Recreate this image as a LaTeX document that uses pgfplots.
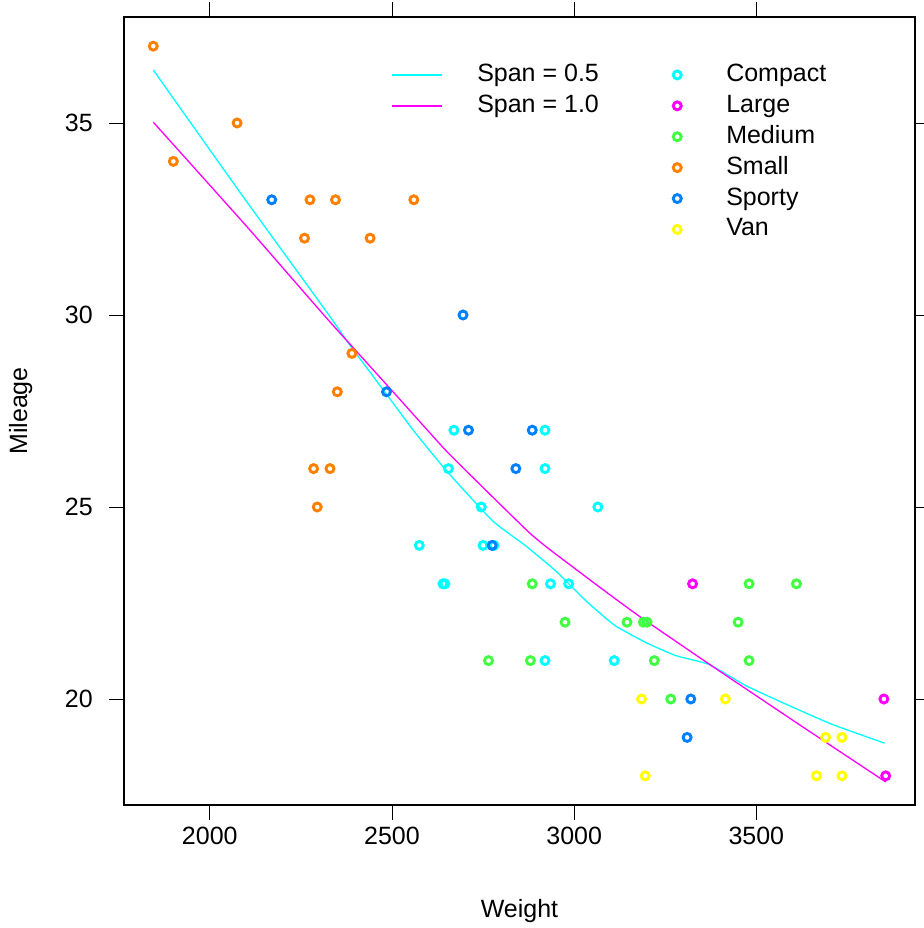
\documentclass[border=0pt]{standalone}
\usepackage{pgfplots}
\pgfplotsset{compat=1.18}
\usepackage{fontspec}
\setmainfont{Liberation Sans}
\definecolor{cCompact}{HTML}{00FFFF}
\definecolor{cLarge}{HTML}{FF00FF}
\definecolor{cMedium}{HTML}{40FF40}
\definecolor{cSmall}{HTML}{FF8000}
\definecolor{cSporty}{HTML}{0080FF}
\definecolor{cVan}{HTML}{FFFF00}
\begin{document}
\begin{tikzpicture}
\path[use as bounding box] (0,0) rectangle (924bp,928bp);
\begin{axis}[
  at={(124bp,123bp)}, anchor=south west,
  scale only axis, width=791bp, height=788bp,
  xmin=1764.6, xmax=3935.4, ymin=17.24, ymax=37.76,
  xtick={2000,2500,3000,3500}, ytick={20,25,30,35},
  tick align=outside, major tick length=15bp,
  tick style={black, line width=0.9bp},
  axis line style={black, line width=1.1bp},
  /pgf/number format/assume math mode=true,
  /pgf/number format/set thousands separator={},
  tick label style={font=\fontsize{25bp}{30bp}\selectfont},
  yticklabel style={inner sep=0pt, xshift=-16bp},
  xticklabel style={inner sep=0pt, yshift=-7bp},
  label style={font=\fontsize{25bp}{30bp}\selectfont},
  xlabel={Weight}, ylabel={Mileage},
  xlabel style={at={(axis description cs:0.5,-0.135)}, anchor=center, inner sep=0pt},
  ylabel style={at={(axis description cs:-0.1305,0.5)}, anchor=center, rotate=0, inner sep=0pt},
  legend columns=2,
  legend style={at={(axis description cs:0.3384,0.9423)}, anchor=north west,
    draw=none, fill=none, inner sep=0pt, outer sep=0pt,
    column sep=0pt, row sep=5.9bp,
    font=\fontsize{25bp}{30bp}\selectfont,
    nodes={inner sep=0pt, text height=19bp, text depth=6bp}},
  legend cell align=left,
  mk/.style={only marks, mark=o, mark size=4.0bp, mark options={line width=2.9bp, draw=#1}, draw=#1},
  mkimg/.style={legend image code/.code={\path[draw=none] (0bp,0bp) -- (26bp,0bp); \draw[#1, line width=2.9bp] (10bp,0bp) circle[radius=4.0bp];}},
]
\addplot[forget plot, mk=cCompact] coordinates {(2670,27)(2640,23)(2655,26)(3065,25)(2750,24)(2920,26)(2780,24)(2745,25)(3110,21)(2920,21)(2645,23)(2575,24)(2935,23)(2920,27)(2985,23)};
\addplot[forget plot, mk=cLarge] coordinates {(3325,23)(3855,18)(3850,20)};
\addplot[forget plot, mk=cMedium] coordinates {(3265,20)(2880,21)(2975,22)(3450,22)(3145,22)(3190,22)(3610,23)(2885,23)(3480,21)(3200,22)(2765,21)(3220,21)(3480,23)};
\addplot[forget plot, mk=cSmall] coordinates {(2560,33)(2345,33)(1845,37)(2260,32)(2440,32)(2285,26)(2275,33)(2350,28)(2295,25)(1900,34)(2390,29)(2075,35)(2330,26)};
\addplot[forget plot, mk=cSporty] coordinates {(3320,20)(2885,27)(3310,19)(2695,30)(2170,33)(2710,27)(2775,24)(2840,26)(2485,28)};
\addplot[forget plot, mk=cVan] coordinates {(3195,18)(3735,18)(3665,18)(3735,19)(3415,20)(3185,20)(3690,19)};
% loess span = 0.5
\addplot[forget plot, cCompact, line width=1.3bp, smooth, tension=0.3] coordinates {
(1845,36.38)(2084,33.18)(2329,29.97)(2384,29.22)(2484,27.95)(2560,26.98)(2649,25.95)(2776,24.64)(2867,23.99)(2950,23.33)(3032,22.56)(3069,22.25)(3114,21.9)(3197,21.47)(3279,21.13)(3370,20.9)(3471,20.35)(3580,19.87)(3708,19.34)(3852,18.85)};
% loess span = 1.0
\addplot[forget plot, cLarge, line width=1.3bp, smooth, tension=0.3] coordinates {
(1845,35.02)(2100,32.32)(2313,30.0)(2384,29.25)(2520,27.82)(2649,26.46)(2770,25.32)(2877,24.33)(2932,23.9)(3069,22.92)(3181,22.14)(3386,20.81)(3620,19.32)(3855,17.84)};
% legend
\addlegendimage{legend image code/.code={\draw[cCompact, line width=1.3bp] (0bp,0bp) -- (50bp,0bp);}}
\addlegendentry{\hspace{34.3bp}\makebox[190bp][l]{Span = 0.5}}
\addlegendimage{mkimg=cCompact}
\addlegendentry{\hspace{33bp}Compact}
\addlegendimage{legend image code/.code={\draw[cLarge, line width=1.3bp] (0bp,0bp) -- (50bp,0bp);}}
\addlegendentry{\hspace{34.3bp}\makebox[190bp][l]{Span = 1.0}}
\addlegendimage{mkimg=cLarge}
\addlegendentry{\hspace{33bp}Large}
\addlegendimage{empty legend}\addlegendentry{}
\addlegendimage{mkimg=cMedium}
\addlegendentry{\hspace{33bp}Medium}
\addlegendimage{empty legend}\addlegendentry{}
\addlegendimage{mkimg=cSmall}
\addlegendentry{\hspace{33bp}Small}
\addlegendimage{empty legend}\addlegendentry{}
\addlegendimage{mkimg=cSporty}
\addlegendentry{\hspace{33bp}Sporty}
\addlegendimage{empty legend}\addlegendentry{}
\addlegendimage{mkimg=cVan}
\addlegendentry{\hspace{33bp}Van}
\end{axis}
\end{tikzpicture}
\end{document}
